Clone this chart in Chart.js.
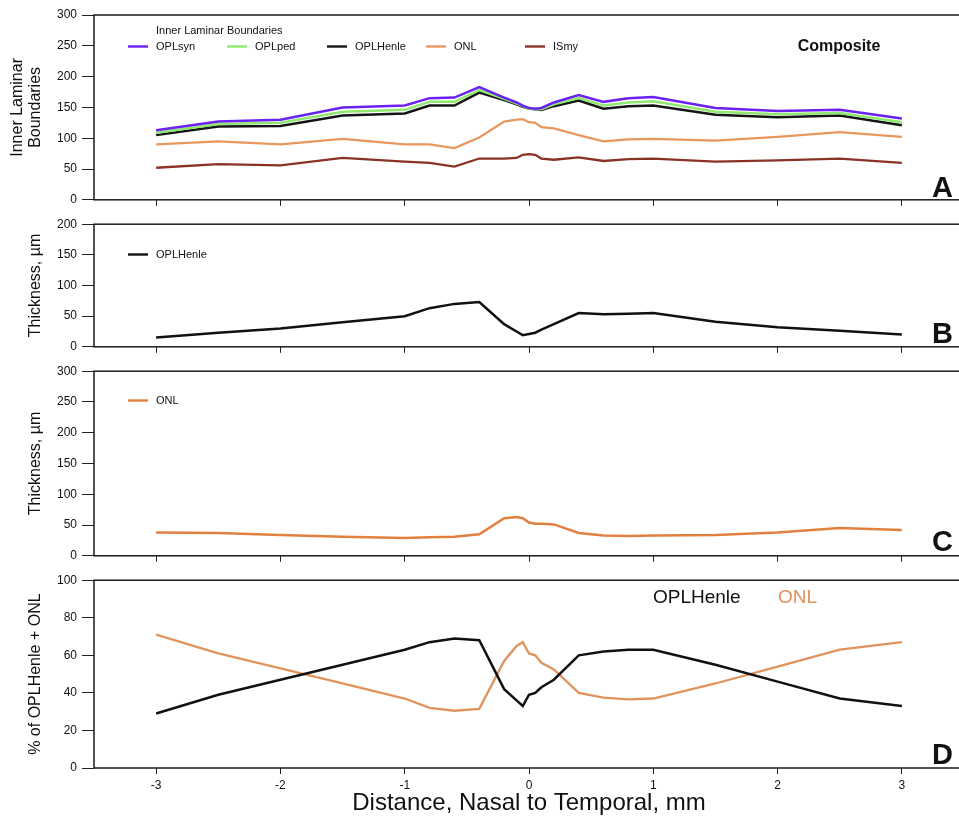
<!DOCTYPE html>
<html>
<head>
<meta charset="utf-8">
<script src="https://cdn.jsdelivr.net/npm/chart.js@4.4.1/dist/chart.umd.min.js"></script>
<style>
html, body { margin: 0; padding: 0; overflow: hidden; background: #fff; width: 959px; height: 819px; }
.panel { position: absolute; left: 0; }
</style>
</head>
<body>
<div class="panel" style="top:0"><canvas id="chartA" width="970" height="212"></canvas></div>
<div class="panel" style="top:212px"><canvas id="chartB" width="970" height="147"></canvas></div>
<div class="panel" style="top:359px"><canvas id="chartC" width="970" height="209"></canvas></div>
<div class="panel" style="top:568px"><canvas id="chartD" width="970" height="251"></canvas></div>
<script>
// distance from fovea, mm (nasal negative)
const distance = [-3, -2.5, -2, -1.5, -1, -0.8, -0.6, -0.4, -0.2, -0.1, -0.05, 0, 0.05, 0.1, 0.2, 0.4, 0.6, 0.8, 1, 1.5, 2, 2.5, 3];
const xTicks = [-3, -2, -1, 0, 1, 2, 3];

// A: inner laminar boundaries
const oplSyn   = [113, 127, 130, 150, 153, 165, 166, 183, 166, 158, 153, 149, 148, 149, 158, 170, 159, 165, 167, 149, 144, 146, 132];
const oplPed   = [109, 123, 125, 143, 146, 159, 159, 178, 164, 156, 152, 148, 147, 147, 155, 165, 153, 158, 160, 143, 139, 141, 126];
const oplHenle = [105, 119, 120, 137, 140, 153, 153, 174, 162, 155, 151, 148, 147, 146, 152, 161, 148, 152, 153, 138, 134, 137, 121];
const onlBound = [90, 95, 90, 99, 90, 90, 84, 101, 127, 130, 131, 126, 125, 118, 116, 105, 95, 98, 99, 96, 102, 110, 102];
const isMy     = [52, 58, 56, 68, 62, 60, 54, 67, 67, 68, 73, 74, 73, 67, 65, 69, 63, 66, 67, 62, 64, 67, 60];

// B, C: thickness
const henleThick = [15, 23, 30, 40, 50, 63, 70, 73, 37, 25, 19, 21, 23, 28, 37, 55, 53, 54, 55, 41, 32, 26, 20];
const onlThick   = [38, 37, 34, 31, 29, 30, 31, 35, 61, 63, 61, 54, 52, 52, 51, 37, 33, 32, 33, 34, 38, 45, 42];

// D: percent of OPLHenle + ONL
const henlePct = [29, 39, 47, 55, 63, 67, 69, 68, 42, 36, 33, 39, 40, 43, 47, 60, 62, 63, 63, 55, 46, 37, 33];
const onlPct   = [71, 61, 53, 45, 37, 32, 30.5, 31.5, 57, 65, 67, 61, 60, 56, 52.5, 40, 37.5, 36.5, 37, 45, 54, 63, 67];

const FONT = "'Liberation Sans', Arial, Helvetica, sans-serif";
const INK = '#111';

function pts(arr) {
  return distance.map((x, i) => ({ x: x, y: arr[i] }));
}

function line(label, arr, color, width) {
  return { label, data: pts(arr), borderColor: color, borderWidth: width || 2.5, pointRadius: 0, tension: 0, fill: false };
}

// frame, legend, panel letter
const panelDeco = {
  id: 'panelDeco',
  afterDraw(chart, args, opts) {
    const { ctx, chartArea: a } = chart;
    ctx.save();
    ctx.strokeStyle = '#1a1a1a';
    ctx.lineWidth = 1.5;
    ctx.strokeRect(a.left, a.top, a.right - a.left, a.bottom - a.top);
    ctx.textBaseline = 'alphabetic';
    (opts.legend || []).forEach((it, i) => {
      const ds = chart.data.datasets[i];
      ctx.strokeStyle = ds.borderColor;
      ctx.lineWidth = 2.4;
      ctx.beginPath();
      ctx.moveTo(it.x - 28, it.y - 3.5);
      ctx.lineTo(it.x - 8, it.y - 3.5);
      ctx.stroke();
      ctx.fillStyle = INK;
      ctx.font = '11px ' + FONT;
      ctx.textAlign = 'left';
      ctx.fillText(ds.label, it.x, it.y);
    });
    (opts.texts || []).forEach(t => {
      ctx.font = t.font + ' ' + FONT;
      ctx.fillStyle = t.color || INK;
      ctx.textAlign = t.align || 'left';
      ctx.fillText(t.text, t.x, t.y);
    });
    ctx.restore();
  }
};

function makeChart(id, datasets, cfg) {
  return new Chart(document.getElementById(id), {
    type: 'line',
    data: { datasets },
    plugins: [panelDeco],
    options: {
      responsive: false,
      animation: false,
      layout: { padding: { top: cfg.padTop, right: 6, left: 0, bottom: 0 } },
      plugins: {
        legend: { display: false },
        tooltip: { enabled: false },
        panelDeco: { legend: cfg.legend, texts: cfg.texts }
      },
      scales: {
        x: {
          type: 'linear',
          min: -3.5,
          max: 3.5,
          afterBuildTicks: s => { s.ticks = xTicks.map(v => ({ value: v })); },
          afterFit: s => { s.height = cfg.xHeight; },
          border: { display: false },
          grid: { drawOnChartArea: false, drawTicks: true, tickLength: 6, color: '#222' },
          ticks: { display: !!cfg.xLabels, color: INK, font: { family: FONT, size: 12 }, padding: 4 },
          title: cfg.xTitle ? { display: true, text: cfg.xTitle, color: INK, font: { family: FONT, size: 24 }, padding: { top: 0, bottom: 1 } } : { display: false }
        },
        y: {
          min: 0,
          max: cfg.yMax,
          afterFit: s => { s.width = 94; },
          border: { display: false },
          grid: { drawOnChartArea: false, drawTicks: true, tickLength: 12, color: '#222' },
          ticks: { stepSize: cfg.yStep, color: INK, font: { family: FONT, size: 12 }, padding: 5 },
          title: { display: true, text: cfg.yTitle, color: INK, font: { family: FONT, size: 16, lineHeight: 1.15 }, padding: { top: cfg.yTitlePad, bottom: 0 } }
        }
      }
    }
  });
}

makeChart('chartA', [
  line('OPLsyn', oplSyn, '#6a22f0'),
  line('OPLped', oplPed, '#8fe870'),
  line('OPLHenle', oplHenle, '#151515'),
  line('ONL', onlBound, '#e8975f', 2.3),
  line('ISmy', isMy, '#8a3324', 2.3)
], {
  padTop: 15, xHeight: 11, yMax: 300, yStep: 50,
  yTitle: ['Inner Laminar', 'Boundaries'], yTitlePad: 8,
  legend: [{ x: 156, y: 50 }, { x: 255, y: 50 }, { x: 355, y: 50 }, { x: 454, y: 50 }, { x: 553, y: 50 }],
  texts: [
    { text: 'Inner Laminar Boundaries', x: 156, y: 34, font: '11px' },
    { text: 'Composite', x: 839, y: 51, font: 'bold 16px', align: 'center' },
    { text: 'A', x: 953, y: 197, font: 'bold 29px', align: 'right' }
  ]
});

makeChart('chartB', [
  line('OPLHenle', henleThick, '#111')
], {
  padTop: 11, xHeight: 12, yMax: 200, yStep: 50,
  yTitle: 'Thickness, µm', yTitlePad: 26,
  legend: [{ x: 156, y: 46 }],
  texts: [{ text: 'B', x: 953, y: 131, font: 'bold 29px', align: 'right' }]
});

makeChart('chartC', [
  line('ONL', onlThick, '#e2813f')
], {
  padTop: 11, xHeight: 12, yMax: 300, yStep: 50,
  yTitle: 'Thickness, µm', yTitlePad: 26,
  legend: [{ x: 156, y: 45 }],
  texts: [{ text: 'C', x: 953, y: 192, font: 'bold 29px', align: 'right' }]
});

makeChart('chartD', [
  line('OPLHenle', henlePct, '#111'),
  line('ONL', onlPct, '#e0935c', 2.3)
], {
  padTop: 10, xHeight: 51, yMax: 100, yStep: 20, xLabels: true,
  xTitle: 'Distance, Nasal to Temporal, mm',
  yTitle: '% of OPLHenle + ONL', yTitlePad: 26,
  texts: [
    { text: 'OPLHenle', x: 653, y: 35, font: '19px' },
    { text: 'ONL', x: 778, y: 35, font: '19px', color: '#e0935c' },
    { text: 'D', x: 953, y: 196, font: 'bold 29px', align: 'right' }
  ]
});
</script>
</body>
</html>
